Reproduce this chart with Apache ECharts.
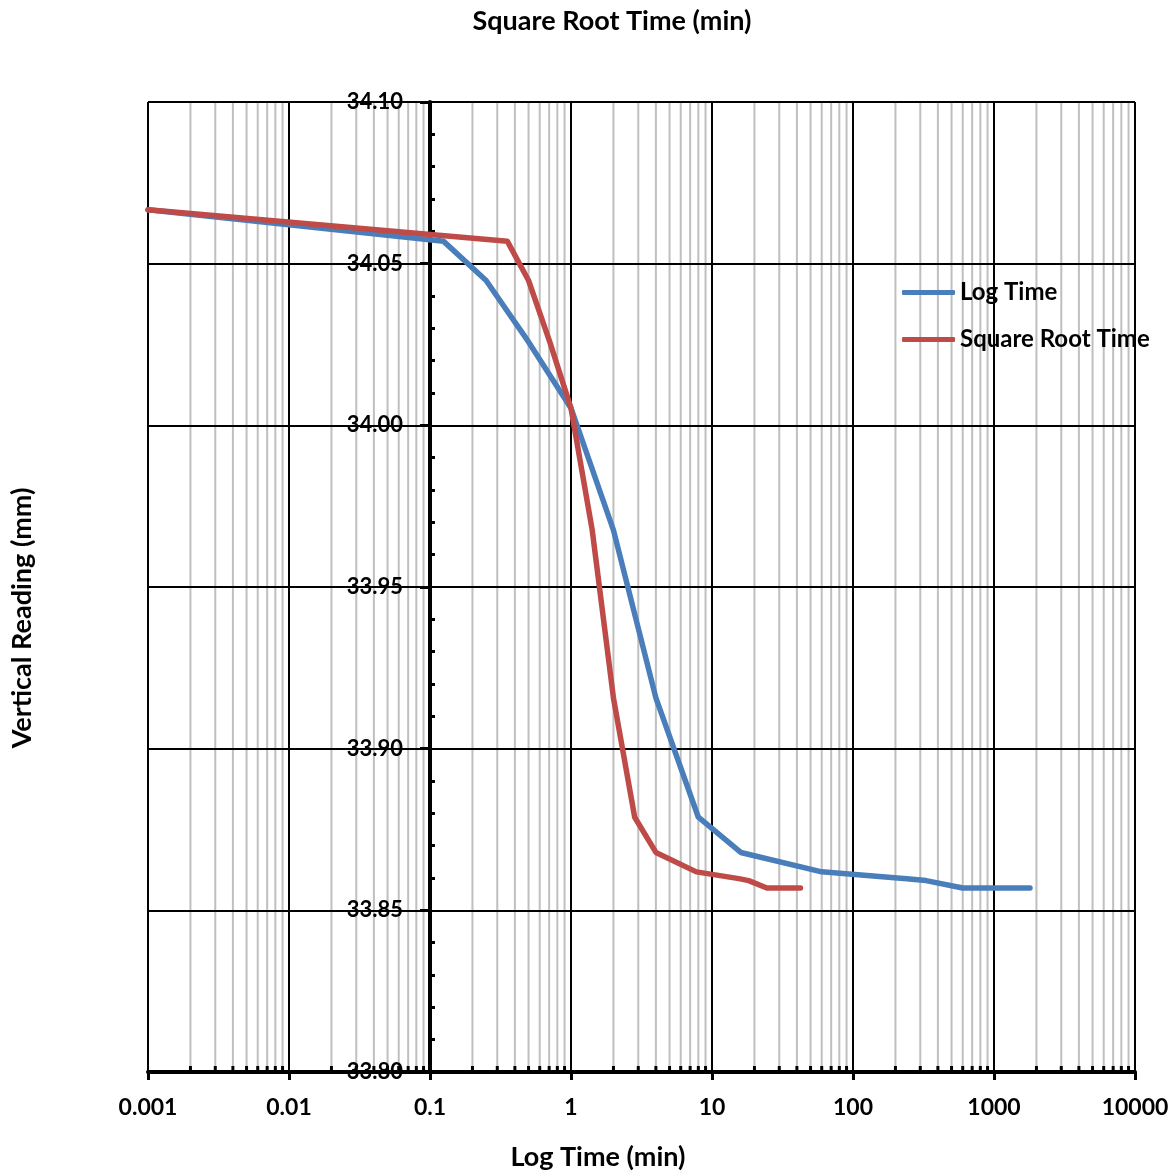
<!DOCTYPE html>
<html><head><meta charset="utf-8">
<script src="https://cdn.jsdelivr.net/npm/echarts@6/dist/echarts.min.js"></script>
<style>html,body{margin:0;padding:0;background:#fff}#c{width:1173px;height:1171px}</style>
</head><body><div id="c"></div>
<script>
// ---- data ----
const logTime  = [0.001, 0.125, 0.25, 0.5, 1, 2, 4, 8, 16, 60, 240, 330, 600, 1800];
const sqrtTime = [0.001, 0.354, 0.5, 0.707, 1, 1.414, 2, 2.83, 4, 7.75, 15.5, 18.2, 24.5, 42.4];
const reading  = [34.0667, 34.0569, 34.0448, 34.0258, 34.0053, 33.9676, 33.9157, 33.8788, 33.8679, 33.8619, 33.8598, 33.8592, 33.8569, 33.8569];
const xTickLabels = ['0.001', '0.01', '0.1', '1', '10', '100', '1000', '10000'];
const xDecades = [0.001, 0.01, 0.1, 1, 10, 100, 1000];
const minorMultipliers = [2, 3, 4, 5, 6, 7, 8, 9];
const yMin = 33.80, yMax = 34.10, yStep = 0.05;
const seriesNames = ['Log Time', 'Square Root Time'];

const minorX = [];
xDecades.forEach(d => minorMultipliers.forEach(m => minorX.push(+(d * m).toPrecision(3))));

const FONT = 'Lato';
const chart = echarts.init(document.getElementById('c'), null, {renderer: 'canvas'});
chart.setOption({
  animation: false,
  backgroundColor: '#fff',
  grid: {left: 148, top: 102, width: 987, height: 970, containLabel: false},
  legend: {
    left: 902, top: 280, orient: 'vertical', itemWidth: 53, itemHeight: 5, itemGap: 22, padding: 0,
    icon: 'roundRect', data: seriesNames,
    textStyle: {fontFamily: FONT, fontWeight: 'bold', fontSize: 24, color: '#000', lineHeight: 25}
  },
  xAxis: {
    type: 'log', logBase: 10, min: 0.001, max: 10000, splitNumber: 7,
    axisLine: {show: true, onZero: false, lineStyle: {color: '#000', width: 4}},
    axisTick: {show: true, length: 8, lineStyle: {color: '#000', width: 3}},
    axisLabel: {
      margin: 24, color: '#000', fontFamily: FONT, fontWeight: 'bold', fontSize: 23,
      formatter: v => xTickLabels[Math.round(Math.log10(v)) + 3]
    },
    splitLine: {show: true, lineStyle: {color: '#000', width: 2}},
    minorTick: {show: false}, minorSplitLine: {show: false}
  },
  yAxis: [{
    type: 'value', position: 'left', offset: -282, min: yMin, max: yMax, interval: yStep, z: 3,
    axisLine: {show: true, lineStyle: {color: '#000', width: 4}},
    axisTick: {show: true, inside: false, length: 10, lineStyle: {color: '#000', width: 3}},
    axisLabel: {margin: 27, color: '#000', fontFamily: FONT, fontWeight: 'bold', fontSize: 22,
      formatter: v => v.toFixed(2)},
    splitLine: {show: true, lineStyle: {color: '#000', width: 2}}
  }, {
    type: 'value', position: 'left', offset: -282, min: yMin, max: yMax, interval: yStep, z: 3,
    axisLine: {show: false}, axisLabel: {show: false}, splitLine: {show: false},
    axisTick: {show: false, inside: true},
    minorTick: {show: true, splitNumber: 5, length: 5, lineStyle: {color: '#000', width: 3}}
  }],
  graphic: [
    {type: 'text', x: 612, y: 21, style: {text: 'Square Root Time (min)', fontFamily: FONT, fontWeight: 'bold', fontSize: 27, fill: '#000', align: 'center', verticalAlign: 'middle'}},
    {type: 'text', x: 598, y: 1157, style: {text: 'Log Time (min)', fontFamily: FONT, fontWeight: 'bold', fontSize: 27, fill: '#000', align: 'center', verticalAlign: 'middle'}},
    {type: 'text', x: 22, y: 618, rotation: Math.PI / 2, style: {text: 'Vertical Reading (mm)', fontFamily: FONT, fontWeight: 'bold', fontSize: 27, fill: '#000', align: 'center', verticalAlign: 'middle'}}
  ],
  series: [{
    type: 'custom', name: 'minorGrid', xAxisIndex: 0, yAxisIndex: 0, silent: true, z: 1, clip: false,
    data: minorX.map(v => [v, yMin]),
    renderItem: (params, api) => {
      const x = api.value(0);
      const pTop = api.coord([x, yMax]);
      const pBot = api.coord([x, yMin]);
      return {type: 'group', children: [
        {type: 'line', shape: {x1: pBot[0], y1: pTop[1], x2: pBot[0], y2: pBot[1]}, style: {stroke: '#bfbfbf', lineWidth: 2}},
        {type: 'line', shape: {x1: pBot[0], y1: pBot[1] - 6, x2: pBot[0], y2: pBot[1]}, style: {stroke: '#000', lineWidth: 3}}
      ]};
    }
  }, {
    name: seriesNames[0], type: 'line', xAxisIndex: 0, yAxisIndex: 0, z: 5,
    data: logTime.map((t, i) => [t, reading[i]]),
    symbol: 'none', itemStyle: {color: '#4A7EBB'},
    lineStyle: {color: '#4A7EBB', width: 5.5, cap: 'round', join: 'round'}
  }, {
    name: seriesNames[1], type: 'line', xAxisIndex: 0, yAxisIndex: 0, z: 6,
    data: sqrtTime.map((t, i) => [t, reading[i]]),
    symbol: 'none', itemStyle: {color: '#BE4B48'},
    lineStyle: {color: '#BE4B48', width: 5.5, cap: 'round', join: 'round'}
  }]
});
</script></body></html>
